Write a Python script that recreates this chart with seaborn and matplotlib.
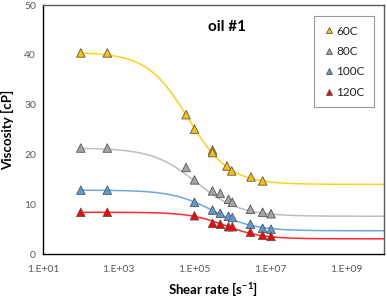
import numpy as np
import pandas as pd
import matplotlib
matplotlib.use("Agg")
import matplotlib.pyplot as plt
from matplotlib.ticker import FixedLocator, FuncFormatter, NullLocator
import seaborn as sns

# ---- data ----
series = ["60C", "80C", "100C", "120C"]
rate_60 = [1e2, 5e2, 6e4, 1e5, 3e5, 3e5, 7.2e5, 9.6e5, 3.1e6, 6.3e6]
visc_60 = [40.4, 40.4, 28.0, 25.1, 20.9, 20.4, 17.7, 16.7, 15.5, 14.7]
rate_80 = [1e2, 5e2, 6e4, 1e5, 3e5, 4.8e5, 7.9e5, 1e6, 3e6, 6.3e6, 1.05e7]
visc_80 = [21.3, 21.3, 17.4, 14.9, 12.7, 12.2, 11.0, 10.4, 9.0, 8.4, 8.1]
rate_100 = [1e2, 5e2, 1e5, 3e5, 4.8e5, 7.9e5, 1e6, 3e6, 6.3e6, 1.05e7]
visc_100 = [12.85, 12.85, 10.4, 8.84, 8.2, 7.6, 7.35, 6.0, 5.2, 5.0]
rate_120 = [1e2, 5e2, 1e5, 3e5, 4.8e5, 7.9e5, 1e6, 3e6, 6.3e6, 1.05e7]
visc_120 = [8.4, 8.4, 7.7, 6.2, 6.0, 5.5, 5.5, 4.4, 3.8, 3.55]

# Cross-model fit parameters of the drawn trend lines
fit_eta0 = [40.5, 21.3, 12.85, 8.4]
fit_etainf = [14.0, 7.6, 4.68, 3.07]
fit_xc = [6.8e4, 1.1e5, 3.0e5, 6.5e5]
fit_m = [0.8, 0.75, 0.8, 0.9]

x_ticks = [1e1, 1e3, 1e5, 1e7, 1e9]
y_ticks = [0, 10, 20, 30, 40, 50]

marker_colors = ["#FFC000", "#A5A5A5", "#5B9BD5", "#FF0000"]
line_colors = ["#FFD21A", "#BDBDBD", "#6FA8DC", "#FF2A2A"]

# ---- tables ----
rates = [rate_60, rate_80, rate_100, rate_120]
viscs = [visc_60, visc_80, visc_100, visc_120]
pts = pd.concat([pd.DataFrame({"rate": r, "visc": v, "series": s})
                 for r, v, s in zip(rates, viscs, series)], ignore_index=True)

xs = np.logspace(2, 10, 400)
curves = pd.concat([
    pd.DataFrame({"rate": xs,
                  "visc": ei + (e0 - ei) / (1 + (xs / xc) ** m),
                  "series": s})
    for s, e0, ei, xc, m in zip(series, fit_eta0, fit_etainf, fit_xc, fit_m)],
    ignore_index=True)

# ---- figure ----
sns.set_style("white")
plt.rcParams["font.family"] = ["Lato", "DejaVu Sans"]
plt.rcParams["mathtext.fontset"] = "custom"
plt.rcParams["mathtext.rm"] = "Lato"
plt.rcParams["mathtext.bf"] = "Lato:bold"

fig = plt.figure(figsize=(3.87, 3.0), dpi=100)
ax = fig.add_axes([0.111, 0.153, 0.881, 0.830])

sns.lineplot(data=curves, x="rate", y="visc", hue="series", hue_order=series,
             palette=line_colors, linewidth=1.1, legend=False, ax=ax,
             estimator=None, sort=True)
sns.scatterplot(data=pts, x="rate", y="visc", hue="series", hue_order=series,
                palette=marker_colors, marker="^", s=38, edgecolor="#555555",
                linewidth=0.6, ax=ax, zorder=5)

ax.set_xscale("log")
ax.set_xlim(1e1, 1e10)
ax.set_ylim(0, 50)
ax.xaxis.set_major_locator(FixedLocator(x_ticks))
ax.xaxis.set_minor_locator(NullLocator())
ax.xaxis.set_major_formatter(FuncFormatter(lambda v, p: "1.E+%02d" % int(round(np.log10(v)))))
ax.set_yticks(y_ticks)

ax.tick_params(axis="both", which="major", direction="out", length=3, width=0.8,
               color="#000000", labelsize=7.5, labelcolor="#595959", pad=2)
ax.tick_params(axis="x", pad=5)

for side in ["left", "bottom"]:
    ax.spines[side].set_color("#000000")
    ax.spines[side].set_linewidth(1.0)
for side in ["top", "right"]:
    ax.spines[side].set_visible(True)
    ax.spines[side].set_color("#595959")
    ax.spines[side].set_linewidth(1.0)

ax.set_xlabel("Shear rate [s$^{\\mathbf{-1}}$]", fontsize=9.5, fontweight="bold",
              color="#000000", labelpad=4)
ax.set_ylabel("Viscosity [cP]", fontsize=9.5, fontweight="bold", color="#000000",
              labelpad=7)

ax.text(0.539, 0.912, "oil #1", transform=ax.transAxes, ha="center", va="center",
        fontsize=11, fontweight="bold", color="#000000")

handles, labels = ax.get_legend_handles_labels()
leg = ax.legend(handles=handles, labels=labels, loc="upper right",
                bbox_to_anchor=(0.971, 0.956), borderaxespad=0, frameon=True,
                fancybox=False, edgecolor="#7F7F7F", fontsize=8.5,
                labelspacing=0.8, handletextpad=0.1, borderpad=0.8,
                handlelength=1.0, markerscale=0.8, title=None)
leg.get_frame().set_linewidth(0.8)
for t in leg.get_texts():
    t.set_color("#222222")

fig.savefig("out.png", dpi=100)
